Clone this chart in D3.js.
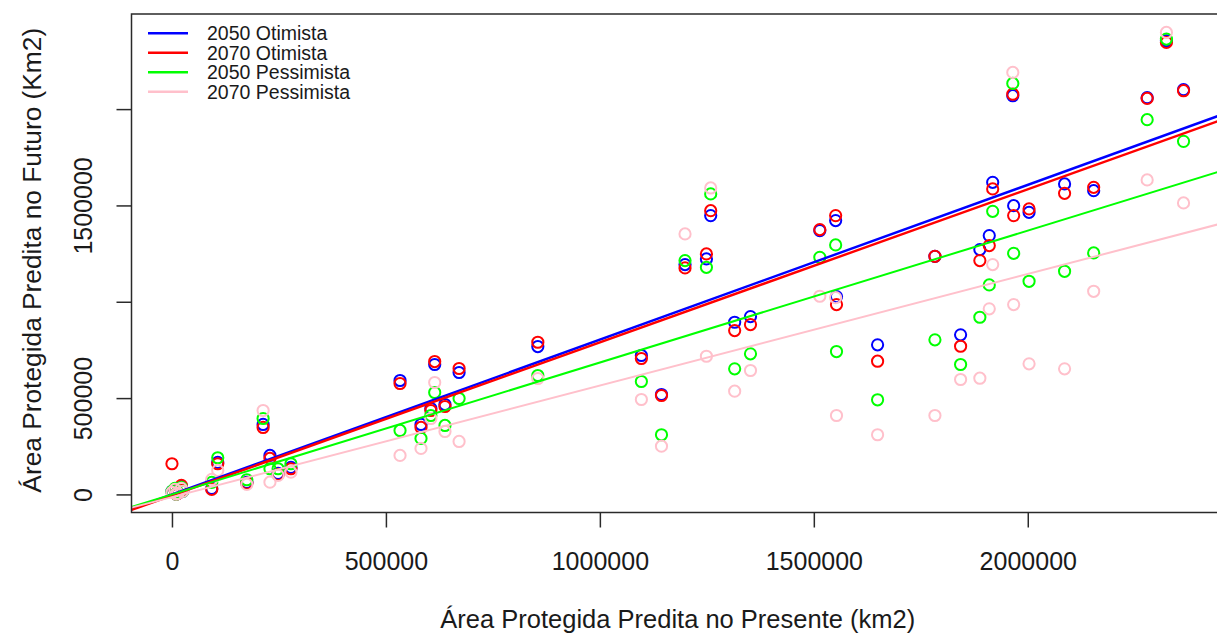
<!DOCTYPE html>
<html>
<head>
<meta charset="utf-8">
<script src="https://cdn.jsdelivr.net/npm/d3@7"></script>
<style>
  body { margin: 0; background: #ffffff; }
  text { font-family: "Liberation Sans", Arial, sans-serif; fill: #1a1a1a; }
</style>
</head>
<body>
<svg id="chart" width="1217" height="634"></svg>
<script>
// Predicted protected area in the present (km2), one entry per species
const presente = [
  0, 7000, 14000, 22000, 10000, 25000, 93000, 107000, 175000, 213000,
  229000, 248000, 278000, 533000, 582000, 605000, 614000, 638000, 671000, 855000,
  1097000, 1144000, 1199000, 1249000, 1259000, 1315000, 1352000, 1514000, 1551000, 1553000,
  1649000, 1783000, 1843000, 1888000, 1910000, 1918000, 1965000, 1967000, 2003000, 2086000,
  2154000, 2279000, 2324000, 2364000
];

// Predicted future protected area for each scenario (km2)
const otimista2050 = [
  15600, 25900, 5200, 41500, 2000, 15600, 31100, 166000, 62200, 363100,
  202300, 108900, 140000, 591300, 363100, 446100, 674300, 466800, 632800, 767600,
  721000, 518700, 1192900, 1222500, 1447100, 893700, 923200, 1369300, 1421200, 1027000,
  776400, 1236000, 828300, 1270700, 1343300, 1619800, 2069500, 1498900, 1464200, 1611500,
  1576800, 2059100, 2354800, 2100600
];
const otimista2070 = [
  159200, 25900, 5200, 46700, 2000, 20700, 25900, 159200, 58600, 347500,
  186700, 103700, 133300, 575700, 347500, 435700, 689800, 456400, 653500, 789900,
  705400, 513500, 1175800, 1248400, 1473000, 850600, 881700, 1374500, 1447100, 985500,
  691400, 1236000, 769200, 1213700, 1291500, 1585600, 2077300, 1447100, 1481800, 1562700,
  1593900, 2055500, 2346000, 2095400
];
const pessimista2050 = [
  15600, 31100, 10400, 36300, 2000, 15600, 62200, 190300, 76200, 394200,
  133300, 133300, 159200, 332000, 290500, 409700, 529000, 357900, 497900, 617200,
  586100, 309600, 1213700, 1178900, 1559600, 652000, 729800, 1230800, 1295100, 741700,
  491200, 802400, 674300, 919600, 1087600, 1469400, 2133300, 1251500, 1106300, 1158200,
  1253600, 1945000, 2363600, 1832500
];
const pessimista2070 = [
  10400, 25900, 5200, 31100, 2000, 15600, 77800, 124500, 51900, 435700,
  63800, 98500, 115700, 202300, 238600, 394200, 580900, 326800, 274900, 601700,
  492700, 250500, 1352200, 717300, 1590700, 535800, 643200, 1028500, 1021800, 409700,
  309600, 409700, 596500, 603200, 963200, 1193000, 2190300, 985500, 677900, 652000,
  1054400, 1632300, 2397800, 1512900
];

const seriesNames = ["2050 Otimista", "2070 Otimista", "2050 Pessimista", "2070 Pessimista"];
const seriesValues = [otimista2050, otimista2070, pessimista2050, pessimista2070];
const seriesColors = ["#0000ff", "#ff0000", "#00ff00", "#ffc0cb"];

// Least-squares fit of each scenario against the present area: intercept, slope
const fitIntercepts = [-300, -5500, 0, -13800];
const fitSlopes = [0.8036, 0.7947, 0.6847, 0.579];

const xTicks = [0, 500000, 1000000, 1500000, 2000000];
const xTickLabels = ["0", "500000", "1000000", "1500000", "2000000"];
const yTicks = [0, 500000, 1000000, 1500000, 2000000];
const yTickLabels = ["0", "500000", "", "1500000", ""];

const xTitle = "Área Protegida Predita no Presente (km2)";
const yTitle = "Área Protegida Predita no Futuro (Km2)";

// ---- layout ----
const plot = { left: 131.5, right: 1224, top: 14, bottom: 512.5 };
const svg = d3.select("#chart");

// axis ranges padded by 4% on each side
function padded(ext) {
  const r = ext[1] - ext[0];
  return [ext[0] - 0.04 * r, ext[1] + 0.04 * r];
}
const allY = seriesValues.flat();
const x = d3.scaleLinear().domain(padded(d3.extent(presente))).range([plot.left, plot.right]);
const y = d3.scaleLinear().domain(padded(d3.extent(allY))).range([plot.bottom, plot.top]);

svg.append("rect").attr("width", 1217).attr("height", 634).attr("fill", "#ffffff");

svg.append("defs").append("clipPath").attr("id", "plotClip")
  .append("rect")
  .attr("x", plot.left).attr("y", plot.top)
  .attr("width", plot.right - plot.left).attr("height", plot.bottom - plot.top);

const area = svg.append("g").attr("clip-path", "url(#plotClip)");

// open circles for every scenario
seriesValues.forEach((vals, s) => {
  area.append("g")
    .selectAll("circle")
    .data(presente.map((p, i) => ({ p, v: vals[i] })))
    .join("circle")
    .attr("cx", d => x(d.p))
    .attr("cy", d => y(d.v))
    .attr("r", 5.6)
    .attr("fill", "none")
    .attr("stroke", seriesColors[s])
    .attr("stroke-width", 2);
});

// fitted lines across the full plotting region
const xd = x.domain();
seriesColors.forEach((c, s) => {
  const a = fitIntercepts[s], b = fitSlopes[s];
  area.append("line")
    .attr("x1", x(xd[0])).attr("y1", y(a + b * xd[0]))
    .attr("x2", x(xd[1])).attr("y2", y(a + b * xd[1]))
    .attr("stroke", c)
    .attr("stroke-width", s < 2 ? 2.4 : 2);
});

// frame
svg.append("rect")
  .attr("x", plot.left).attr("y", plot.top)
  .attr("width", plot.right - plot.left).attr("height", plot.bottom - plot.top)
  .attr("fill", "none").attr("stroke", "#2a2a2a").attr("stroke-width", 1.5);

// x axis
const gx = svg.append("g")
  .attr("transform", `translate(0,${plot.bottom})`)
  .call(d3.axisBottom(x).tickValues(xTicks)
    .tickFormat((d, i) => xTickLabels[i]).tickSize(15).tickSizeOuter(0));
gx.select(".domain").remove();
gx.selectAll(".tick line").attr("stroke", "#2a2a2a").attr("stroke-width", 1.5);
gx.selectAll(".tick text")
  .attr("y", 57.5).attr("dy", 0)
  .attr("font-size", 25).attr("fill", "#1a1a1a")
  .style("font-family", '"Liberation Sans", Arial, sans-serif');

// y axis with labels running upward
const gy = svg.append("g")
  .attr("transform", `translate(${plot.left},0)`)
  .call(d3.axisLeft(y).tickValues(yTicks)
    .tickFormat((d, i) => yTickLabels[i]).tickSize(15).tickSizeOuter(0));
gy.select(".domain").remove();
gy.selectAll(".tick line").attr("stroke", "#2a2a2a").attr("stroke-width", 1.5);
gy.selectAll(".tick text")
  .attr("x", 0).attr("y", 0).attr("dy", 0)
  .attr("transform", "translate(-39.5,0) rotate(-90)")
  .attr("text-anchor", "middle")
  .attr("font-size", 25).attr("fill", "#1a1a1a")
  .style("font-family", '"Liberation Sans", Arial, sans-serif');

// axis titles
svg.append("text")
  .attr("x", (plot.left + plot.right) / 2).attr("y", 628)
  .attr("text-anchor", "middle").attr("font-size", 25.5)
  .text(xTitle);
svg.append("text")
  .attr("transform", `translate(41,${(plot.top + plot.bottom) / 2 - 3}) rotate(-90)`)
  .attr("text-anchor", "middle").attr("font-size", 26.3)
  .text(yTitle);

// legend
const legend = svg.append("g");
seriesNames.forEach((name, i) => {
  const ly = 33.3 + i * 19.5;
  legend.append("line")
    .attr("x1", 148).attr("x2", 188).attr("y1", ly).attr("y2", ly)
    .attr("stroke", seriesColors[i]).attr("stroke-width", 2.5);
  legend.append("text")
    .attr("x", 207).attr("y", ly + 7)
    .attr("font-size", 19.5)
    .text(name);
});
</script>
</body>
</html>
